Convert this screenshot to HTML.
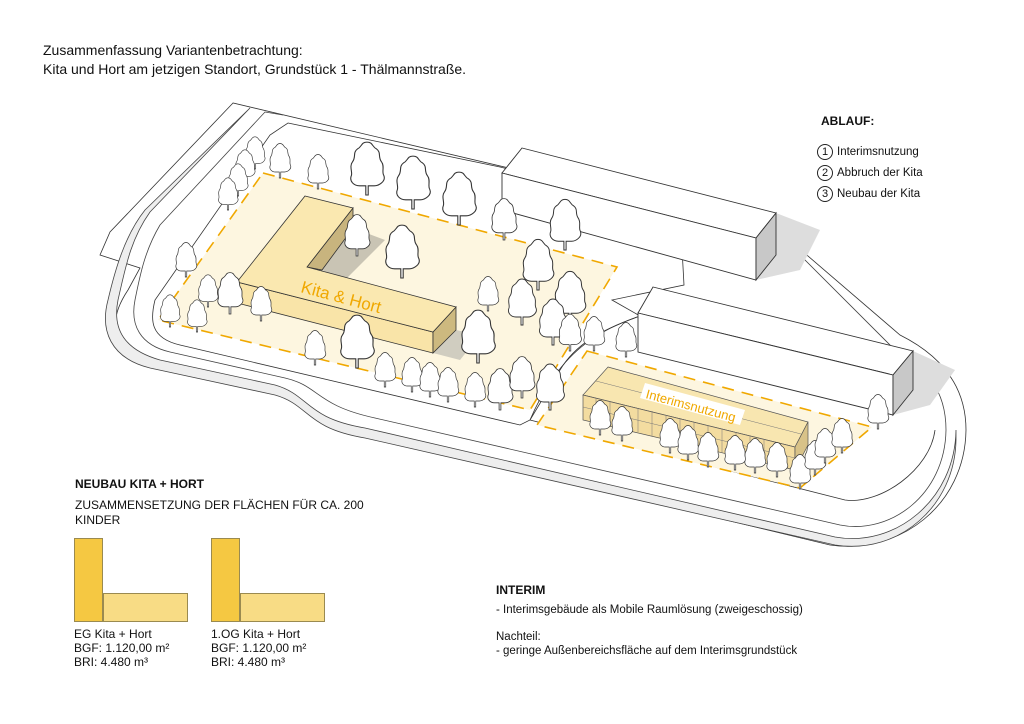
<!DOCTYPE html>
<html><head><meta charset="utf-8"><style>
html,body{margin:0;padding:0;background:#fff}
body{width:1024px;height:724px;position:relative;overflow:hidden;font-family:"Liberation Sans",sans-serif;color:#111}
.t{position:absolute;white-space:nowrap}
</style></head><body>
<svg width="1024" height="724" style="position:absolute;left:0;top:0">
<defs>
<g id="T"><path d="M0,-26 C5,-26 4,-22 8,-20 C12,-17 9,-13 12,-9 C15,-5 12,0 14,3 C16,8 10,12 6,12 L1,12 L1,20 L-1,20 L-1,12 L-6,12 C-11,12 -15,8 -13,3 C-12,0 -15,-5 -12,-9 C-9,-13 -12,-17 -8,-20 C-4,-22 -5,-26 0,-26Z" fill="#fff" stroke="#333" stroke-width="0.9"/></g>
</defs>
<path d="M233,103 L110,232 L100,255 L140,268 L128,290 C108,320 110,345 150,360 L270,388 C305,398 300,420 360,432 L830,545 C900,555 965,505 966,430 C966,385 940,355 900,335 L780,232 Z" fill="#fff" stroke="#333" stroke-width="0.8"/>
<path d="M250,108 L150,212 C130,240 125,270 118,300 C112,330 125,350 160,360 L275,385 C310,395 305,418 365,428 L835,537 C895,548 955,500 956,430 L956,440 C955,505 900,555 835,545 L365,438 C305,428 310,405 275,395 L150,368 C110,358 100,330 108,300 C115,270 125,235 145,210 Z" fill="#eee" stroke="#444" stroke-width="0.8"/>
<path d="M283,115 L265,112 L160,225 C145,250 140,275 135,300 C130,325 140,345 170,352 L285,378 C320,386 315,405 375,418 L840,525 C890,535 945,495 946,430 C946,395 930,370 900,355 L790,245" fill="none" stroke="#444" stroke-width="0.8"/>
<path d="M288,123 L500,167 L680,212 L684,285 L612,300 L640,316 C600,330 560,350 530,420 L520,425 L180,345 C150,338 150,320 155,300 L270,135 Z" fill="#fff" stroke="#333" stroke-width="0.8"/>
<path d="M640,316 C600,330 575,345 560,370 L530,420 L845,500 C880,505 930,470 935,430" fill="none" stroke="#333" stroke-width="0.8"/>
<polygon points="263,173 617,267 530,410 158,320" fill="#fdf6e0"/>
<polygon points="263,173 617,267 530,410 158,320" fill="none" stroke="#f0a800" stroke-width="1.6" stroke-dasharray="12,8"/>
<polygon points="587,351 872,427 800,488 537,425" fill="#fdf6e0"/>
<polygon points="587,351 872,427 800,488 537,425" fill="none" stroke="#f0a800" stroke-width="1.6" stroke-dasharray="12,8"/>
<polygon points="776,213 820,230 800,270 756,280" fill="#ddd"/>
<polygon points="522,148 776,213 756,238 502,173" fill="#fff" stroke="#333" stroke-width="0.9"/>
<polygon points="502,173 756,238 756,280 502,210" fill="#fff" stroke="#333" stroke-width="0.9"/>
<polygon points="776,213 776,255 756,280 756,238" fill="#c8c8c8" stroke="#333" stroke-width="0.9"/>
<polygon points="913,351 955,370 930,405 893,415" fill="#ddd"/>
<polygon points="653,287 913,351 893,375 638,313" fill="#fff" stroke="#333" stroke-width="0.9"/>
<polygon points="638,313 893,375 893,415 638,352" fill="#fff" stroke="#333" stroke-width="0.9"/>
<polygon points="913,351 913,390 893,415 893,375" fill="#c8c8c8" stroke="#333" stroke-width="0.9"/>
<polygon points="353,228 385,240 345,280 322,270" fill="#c9c4b4"/>
<polygon points="456,330 480,335 460,360 433,353" fill="#d0cdc0"/>
<polygon points="353,208 353,228 322,270 307,267" fill="#c8b47e" stroke="#333" stroke-width="0.8"/>
<polygon points="237,282 433,332 433,353 237,303" fill="#f9e4a8" stroke="#333" stroke-width="0.8"/>
<polygon points="456,307 456,330 433,353 433,332" fill="#cdb97f" stroke="#333" stroke-width="0.8"/>
<polygon points="305,196 353,208 307,267 456,307 433,332 237,282" fill="#fae8b0" stroke="#333" stroke-width="0.8"/>
<text x="300" y="292" transform="rotate(15 300 292)" fill="#f0a800" font-size="17" font-family="Liberation Sans">Kita &amp; Hort</text>
<polygon points="608,367 808,422 795,447 583,395" fill="#f8e6b0" stroke="#555" stroke-width="0.7"/>
<polygon points="583,395 795,447 795,470 583,420" fill="#f3dca0" stroke="#555" stroke-width="0.7"/>
<polygon points="808,422 808,445 795,470 795,447" fill="#d8c288" stroke="#555" stroke-width="0.7"/>
<g stroke="#777" stroke-width="0.5" fill="none">
<path d="M596,381 L801,434 M583,407 L795,458"/>
<path d="M596,398 L596,422 M610,401 L610,425 M624,405 L624,429 M638,408 L638,432 M652,411 L652,436 M666,415 L666,439 M680,418 L680,442 M694,422 L694,446 M708,425 L708,449 M722,429 L722,453 M736,432 L736,456 M750,436 L750,460 M764,439 L764,463 M778,443 L778,467"/>
</g>
<polygon points="645,383 745,410 740,425 640,398" fill="#fff"/>
<text x="645" y="398" transform="rotate(15 645 398)" fill="#f0a800" font-size="13" font-family="Liberation Sans">Interimsnutzung</text>
<g>
<use href="#T" transform="translate(255,155) scale(.7)"/><use href="#T" transform="translate(245,168) scale(.7)"/><use href="#T" transform="translate(238,182) scale(.7)"/><use href="#T" transform="translate(228,196) scale(.7)"/><use href="#T" transform="translate(280,163) scale(.75)"/><use href="#T" transform="translate(318,174) scale(.75)"/>
<use href="#T" transform="translate(367,172) scale(1.2,1.15)"/><use href="#T" transform="translate(413,186) scale(1.2,1.15)"/><use href="#T" transform="translate(459,202) scale(1.2,1.15)"/><use href="#T" transform="translate(504,222) scale(.9)"/><use href="#T" transform="translate(565,228) scale(1.1)"/>
<use href="#T" transform="translate(357,238) scale(.9)"/><use href="#T" transform="translate(402,255) scale(1.2,1.15)"/>
<use href="#T" transform="translate(186,262) scale(.75)"/><use href="#T" transform="translate(208,293) scale(.7)"/><use href="#T" transform="translate(170,313) scale(.7)"/><use href="#T" transform="translate(197,318) scale(.7)"/><use href="#T" transform="translate(230,296) scale(.9)"/><use href="#T" transform="translate(261,306) scale(.75)"/>
<use href="#T" transform="translate(538,268) scale(1.1)"/><use href="#T" transform="translate(488,296) scale(.75)"/><use href="#T" transform="translate(522,305) scale(1)"/><use href="#T" transform="translate(570,300) scale(1.1)"/><use href="#T" transform="translate(553,325) scale(1)"/><use href="#T" transform="translate(594,336) scale(.75)"/><use href="#T" transform="translate(626,342) scale(.75)"/>
<use href="#T" transform="translate(478,340) scale(1.2,1.15)"/><use href="#T" transform="translate(357,345) scale(1.2,1.15)"/><use href="#T" transform="translate(315,350) scale(.75)"/>
<use href="#T" transform="translate(385,372) scale(.75)"/><use href="#T" transform="translate(412,377) scale(.75)"/><use href="#T" transform="translate(430,382) scale(.75)"/><use href="#T" transform="translate(448,387) scale(.75)"/><use href="#T" transform="translate(475,392) scale(.75)"/><use href="#T" transform="translate(500,392) scale(.9)"/><use href="#T" transform="translate(522,380) scale(.9)"/><use href="#T" transform="translate(550,390) scale(1)"/>
<use href="#T" transform="translate(570,335) scale(.8)"/>
<use href="#T" transform="translate(600,420) scale(.75)"/><use href="#T" transform="translate(622,426) scale(.75)"/><use href="#T" transform="translate(670,438) scale(.75)"/><use href="#T" transform="translate(688,445) scale(.75)"/><use href="#T" transform="translate(708,452) scale(.75)"/><use href="#T" transform="translate(735,455) scale(.75)"/><use href="#T" transform="translate(755,458) scale(.75)"/><use href="#T" transform="translate(777,462) scale(.75)"/><use href="#T" transform="translate(800,474) scale(.75)"/><use href="#T" transform="translate(815,460) scale(.75)"/><use href="#T" transform="translate(825,448) scale(.75)"/><use href="#T" transform="translate(842,438) scale(.75)"/><use href="#T" transform="translate(878,414) scale(.75)"/>
</g>
</svg>
<div class="t" style="left:43px;top:42px;font-size:14px">Zusammenfassung Variantenbetrachtung:</div>
<div class="t" style="left:43px;top:61px;font-size:14px">Kita und Hort am jetzigen Standort, Grundstück 1 - Thälmannstraße.</div>
<div class="t" style="left:821px;top:114px;font-size:12px;font-weight:bold">ABLAUF:</div>
<div class="t" style="left:817px;top:142px;font-size:11.5px;line-height:21px">
<span style="display:inline-block;width:14px;height:14px;border:1px solid #222;border-radius:50%;text-align:center;line-height:14px;font-size:11px;margin-right:4px">1</span>Interimsnutzung<br>
<span style="display:inline-block;width:14px;height:14px;border:1px solid #222;border-radius:50%;text-align:center;line-height:14px;font-size:11px;margin-right:4px">2</span>Abbruch der Kita<br>
<span style="display:inline-block;width:14px;height:14px;border:1px solid #222;border-radius:50%;text-align:center;line-height:14px;font-size:11px;margin-right:4px">3</span>Neubau der Kita</div>
<div class="t" style="left:75px;top:477px;font-size:12px;font-weight:bold">NEUBAU KITA + HORT</div>
<div class="t" style="left:75px;top:498px;font-size:12px;line-height:15px">ZUSAMMENSETZUNG DER FLÄCHEN FÜR CA. 200<br>KINDER</div>
<div style="position:absolute;left:74px;top:538px;width:29px;height:84px;background:#f5c842;border:1px solid #9a8a50;box-sizing:border-box"></div>
<div style="position:absolute;left:103px;top:593px;width:85px;height:29px;background:#f8dc85;border:1px solid #9a8a50;box-sizing:border-box"></div>
<div style="position:absolute;left:211px;top:538px;width:29px;height:84px;background:#f5c842;border:1px solid #9a8a50;box-sizing:border-box"></div>
<div style="position:absolute;left:240px;top:593px;width:85px;height:29px;background:#f8dc85;border:1px solid #9a8a50;box-sizing:border-box"></div>
<div class="t" style="left:74px;top:627px;font-size:12px;line-height:14px">EG Kita + Hort<br>BGF: 1.120,00 m²<br>BRI: 4.480 m³</div>
<div class="t" style="left:211px;top:627px;font-size:12px;line-height:14px">1.OG Kita + Hort<br>BGF: 1.120,00 m²<br>BRI: 4.480 m³</div>
<div class="t" style="left:496px;top:583px;font-size:12px;font-weight:bold">INTERIM</div>
<div class="t" style="left:496px;top:604px;font-size:11.5px">- Interimsgebäude als Mobile Raumlösung (zweigeschossig)</div>
<div class="t" style="left:496px;top:630px;font-size:11.5px;line-height:14px">Nachteil:<br>- geringe Außenbereichsfläche auf dem Interimsgrundstück</div>
</body></html>
